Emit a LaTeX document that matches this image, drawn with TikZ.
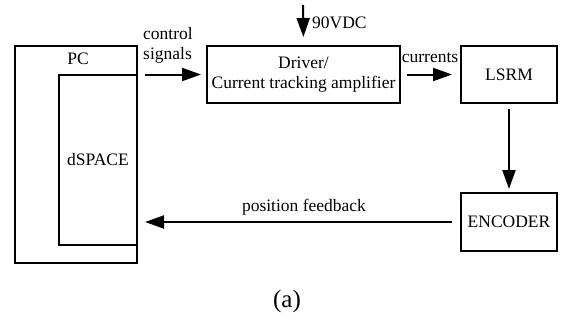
\documentclass[tikz,border=0pt]{standalone}
\usepackage{fontspec}
\setmainfont{Liberation Serif}
\usepackage{tikz}
\usetikzlibrary{arrows.meta,positioning,calc}

\tikzset{
  blk/.style={draw, line width=2pt, rectangle, inner sep=0pt, align=center},
  sig/.style={-{Triangle[length=19pt,width=13pt]}, line width=2pt},
  lbl/.style={inner sep=0pt, align=left}
}

\begin{document}
\begin{tikzpicture}[x=1pt, y=-1pt, font=\fontsize{17.5}{20}\selectfont]
  \useasboundingbox (0,0) rectangle (564,321);

  % PC with the dSPACE board inside
  \node[blk, minimum width=122pt, minimum height=217pt] (pc) at (76,154.5) {};
  \node[blk, minimum width=78pt, minimum height=170pt] (dspace) at (98,160) {dSPACE};
  \node[lbl] (pclbl) at (78,59) {PC};

  % power stage and motor
  \node[blk, minimum width=193pt, minimum height=57pt] (drv) at (303.5,74.5)
    {Driver/\\Current tracking amplifier};
  \node[blk, minimum width=96pt, minimum height=57pt] (lsrm) at (509,74.5) {LSRM};
  \node[blk, minimum width=96pt, minimum height=58pt] (enc) at (509,222) {ENCODER};

  % supply input
  \coordinate (vdc) at (303,5);
  \node[lbl, anchor=west] (vdclbl) at (312,23) {90VDC};

  % signal paths
  \draw[sig, shorten <=7pt, shorten >=5pt] (pc.east |- drv.west) -- (drv.west);
  \draw[sig, shorten <=6pt, shorten >=8pt] (drv.east) -- (lsrm.west);
  \draw[sig, shorten <=5pt, shorten >=3pt] (lsrm.south) -- (enc.north);
  \draw[sig, shorten <=8pt, shorten >=7pt] (enc.west) -- (pc.east |- enc.west);
  \draw[sig, shorten >=8pt] (vdc) -- (drv.north);

  % labels on the paths
  \node[lbl, anchor=west] (ctrl) at (143,45) {control\\signals};
  \node[lbl] (cur) at (430,58) {currents};
  \node[lbl] (fb) at (304,207) {position feedback};

  \node[lbl, font=\fontsize{25}{28}\selectfont] (cap) at (287,301) {(a)};
\end{tikzpicture}
\end{document}
